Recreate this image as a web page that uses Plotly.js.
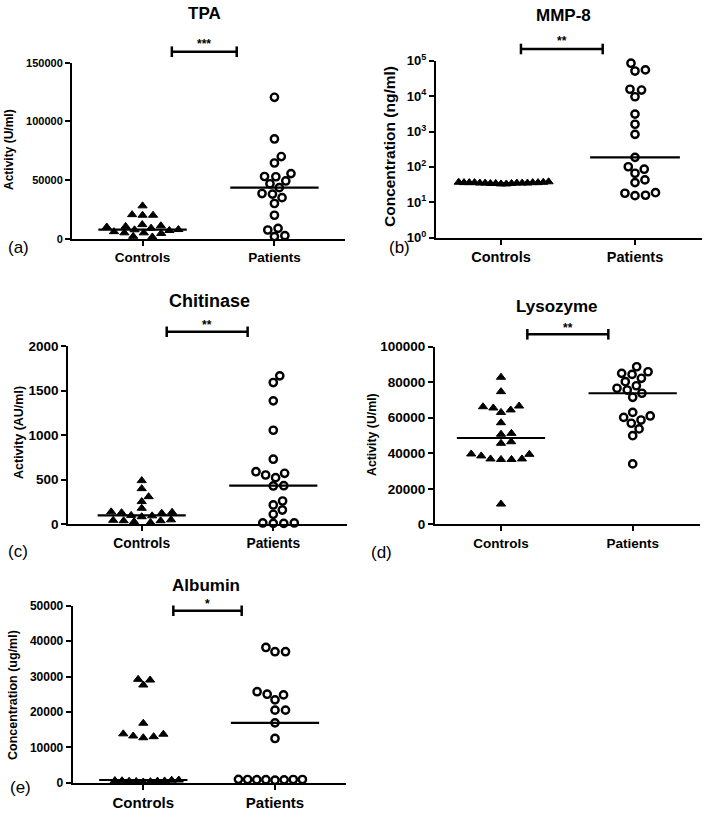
<!DOCTYPE html>
<html>
<head>
<meta charset="utf-8">
<script src="https://cdn.plot.ly/plotly-3.0.1.min.js"></script>
<style>html,body{margin:0;padding:0;background:#fff;}#chart{width:706px;height:817px;}</style>
</head>
<body>
<div id="chart"></div>
<script>
// ---------- data ----------
const groups = ['Controls', 'Patients'];

const tpaControls = [28000, 20500, 20000, 20000, 12000, 11000, 10500, 10000, 9000, 7800, 7600, 7000, 6000, 5000, 5000, 4500, 2000, 1500, -500];
const tpaPatients = [120500, 85000, 70000, 64500, 55500, 53000, 52800, 49200, 46800, 43500, 38500, 38000, 35000, 30000, 20000, 8800, 7400, 2600, 1800];

const mmp8Controls = [36, 34, 35, 37, 33, 36, 35, 38, 34, 36, 35, 37, 34, 36, 35, 33, 36, 35];
const mmp8Patients = [85000, 55000, 51000, 15600, 14800, 9600, 3100, 1600, 830, 186, 101, 86, 66, 43, 36, 18.7, 18, 15.8, 15.4];

const chitinaseControls = [490, 400, 310, 255, 180, 140, 135, 130, 125, 100, 95, 85, 50, 45, 40, 40, 30, 20, -20];
const chitinasePatients = [1665, 1590, 1385, 1055, 730, 590, 572, 553, 523, 433, 430, 261, 217, 160, 112, 15, 10, 10, 15];

const lysozymeControls = [82800, 74700, 66600, 66200, 65500, 64400, 63000, 57200, 51200, 50700, 46500, 45600, 39600, 39400, 38500, 36800, 36800, 36500, 36500, 11400];
const lysozymePatients = [88700, 85900, 85000, 84400, 82200, 80300, 78000, 76600, 75600, 73800, 71500, 63000, 61000, 60200, 58700, 56900, 53700, 49900, 34000];

const albuminControls = [29200, 29000, 27600, 16800, 13800, 13700, 13200, 13000, 12700, 760, 700, 600, 550, 500, 450, 400, 350, 300, 200];
const albuminPatients = [38200, 37000, 37000, 25700, 25000, 24800, 23400, 20500, 20500, 16900, 12500, 950, 900, 900, 900, 850, 850, 800, 700];

const titles = ['TPA', 'MMP-8', 'Chitinase', 'Lysozyme', 'Albumin'];
const yTitles = ['Activity (U/ml)', 'Concentration (ng/ml)', 'Activity (AU/ml)', 'Activity (U/ml)', 'Concentration (ug/ml)'];
const panelLabels = ['(a)', '(b)', '(c)', '(d)', '(e)'];
const significance = ['***', '**', '**', '**', '*'];
const mmp8TickVals = [1, 10, 100, 1000, 10000, 100000];
const mmp8TickText = ['10<sup>0</sup>', '10<sup>1</sup>', '10<sup>2</sup>', '10<sup>3</sup>', '10<sup>4</sup>', '10<sup>5</sup>'];

// ---------- layout / style config ----------
const W = 706, H = 817;
const FONT = 'Arial, "Liberation Sans", Helvetica, sans-serif';
const fx = p => p / W, fy = p => 1 - p / H;

const panels = [
  {ctrl: tpaControls, pat: tpaPatients, xPx: [72, 345], yPx: [62.7, 238.7], xRange: [-0.535, 1.535], yRange: [0, 150000], dtick: 50000,
   tickSize: 11, catSize: 13.5, titleXY: [204, 14], titleSize: 17, yTitleXY: [9, 150], yTitleSize: 12, labelXY: [18, 248], labelSize: 17,
   bar: [0.222, 0.714], barY: 51.7, starsY: 44, halfW: 32},
  {ctrl: mmp8Controls, pat: mmp8Patients, xPx: [436, 702], yPx: [60.7, 237.7], xRange: [-0.485, 1.5], yRange: [0, 5], log: true,
   tickSize: 13, catSize: 14.5, titleXY: [563, 15], titleSize: 17, yTitleXY: [389, 147], yTitleSize: 15.5, labelXY: [399, 248], labelSize: 17,
   bar: [0.149, 0.759], barY: 49, starsY: 41, halfW: 45},
  {ctrl: chitinaseControls, pat: chitinasePatients, xPx: [68.3, 346.7], yPx: [346, 524.3], xRange: [-0.558, 1.558], yRange: [0, 2000], dtick: 500,
   tickSize: 13.5, catSize: 13.8, titleXY: [209, 301], titleSize: 18, yTitleXY: [19, 433], yTitleSize: 12.5, labelXY: [18, 551], labelSize: 17,
   bar: [0.19, 0.805], barY: 331.7, starsY: 325, halfW: 32},
  {ctrl: lysozymeControls, pat: lysozymePatients, xPx: [435, 700], yPx: [346.7, 524.3], xRange: [-0.501, 1.511], yRange: [0, 100000], dtick: 20000,
   tickSize: 13.5, catSize: 13.5, titleXY: [557, 306], titleSize: 17, yTitleXY: [372, 435], yTitleSize: 12.3, labelXY: [381, 552], labelSize: 17,
   bar: [0.2, 0.815], barY: 334.3, starsY: 328, halfW: 32},
  {ctrl: albuminControls, pat: albuminPatients, xPx: [72.7, 345.6], yPx: [605.7, 782.7], xRange: [-0.536, 1.536], yRange: [0, 50000], dtick: 10000,
   tickSize: 12, catSize: 15, titleXY: [206, 585], titleSize: 17, yTitleXY: [13, 695], yTitleSize: 12.5, labelXY: [20, 787], labelSize: 17,
   bar: [0.228, 0.747], barY: 610.7, starsY: 604, halfW: 32}
];

const S0 = 10.5;     // px horizontal spacing between touching neighbours
const DYS = [6.5, 8.5]; // px vertical collision distance: triangles, circles
const MEDIAN_HALF = 0.335;

function median(a) {
  const s = a.slice().sort((p, q) => p - q);
  const n = s.length;
  return n % 2 ? s[(n - 1) / 2] : (s[n / 2 - 1] + s[n / 2]) / 2;
}

// deterministic beeswarm (GraphPad-like scatter) in pixel space, elliptical collisions
function swarm(vals, toPx, halfW, DY) {
  const n = vals.length;
  const py = vals.map(toPx);
  const sp = py.map(p => {
    const near = py.filter(q => Math.abs(q - p) < 3).length;
    return near > 1 ? Math.min(S0, 2 * halfW / (near - 1)) : S0;
  });
  const order = vals.map((v, i) => i).sort((a, b) => vals[a] - vals[b]);
  const placed = [];
  const off = new Array(n).fill(0);
  const collides = (i, x) => placed.some(j => {
    const s = Math.min(sp[i], sp[j]);
    const dx = (off[j] - x) / s, dy = (py[j] - py[i]) / DY;
    return dx * dx + dy * dy < 0.999;
  });
  order.forEach(i => {
    const cands = [0];
    placed.forEach(j => {
      const dy = (py[j] - py[i]) / DY;
      if (Math.abs(dy) < 1) {
        const s = Math.min(sp[i], sp[j]);
        const w = s * Math.sqrt(1 - dy * dy);
        cands.push(off[j] + w, off[j] - w);
      }
    });
    cands.sort((a, b) => Math.abs(a) - Math.abs(b) || b - a);
    for (const x of cands) { if (!collides(i, x)) { off[i] = x; break; } }
    placed.push(i);
  });
  return off;
}

const traces = [];
const annotations = [];
const shapes = [];
const layout = {
  width: W, height: H, margin: {l: 0, r: 0, t: 0, b: 0},
  paper_bgcolor: '#fff', plot_bgcolor: '#fff', showlegend: false,
  font: {family: FONT, color: '#000'},
  annotations: annotations, shapes: shapes
};

panels.forEach((p, k) => {
  const sfx = k === 0 ? '' : String(k + 1);
  const xa = 'x' + sfx, ya = 'y' + sfx;
  const wPx = p.xPx[1] - p.xPx[0], hPx = p.yPx[1] - p.yPx[0];
  const pxPerX = wPx / (p.xRange[1] - p.xRange[0]);
  const toPx = p.log ? (v => Math.log10(v) * hPx / (p.yRange[1] - p.yRange[0]))
                     : (v => (v - p.yRange[0]) * hPx / (p.yRange[1] - p.yRange[0]));

  [p.ctrl, p.pat].forEach((vals, g) => {
    const off = swarm(vals, toPx, p.halfW, DYS[g]);
    traces.push({
      type: 'scatter', mode: 'markers', xaxis: xa, yaxis: ya, cliponaxis: false, hoverinfo: 'y',
      x: vals.map((v, i) => g + off[i] / pxPerX), y: vals,
      marker: g === 0
        ? {symbol: 'triangle-up', size: 8, color: '#000', line: {color: '#000', width: 1}}
        : {symbol: 'circle-open', size: 7.3, color: '#000', line: {color: '#000', width: 2.4}}
    });
    const m = median(vals);
    traces.push({
      type: 'scatter', mode: 'lines', xaxis: xa, yaxis: ya, cliponaxis: false, hoverinfo: 'skip',
      x: [g - MEDIAN_HALF, g + MEDIAN_HALF], y: [m, m], line: {color: '#000', width: 2.2}
    });
  });

  const common = {showline: true, linecolor: '#000', linewidth: 2, ticks: 'outside', ticklen: 5, tickwidth: 2, tickcolor: '#000',
                  showgrid: false, zeroline: false, fixedrange: true};
  layout['xaxis' + sfx] = Object.assign({}, common, {
    domain: [fx(p.xPx[0]), fx(p.xPx[1])], anchor: ya, range: p.xRange,
    tickvals: [0, 1], ticktext: groups, tickfont: {family: FONT, size: p.catSize, weight: 'bold', color: '#000'}
  });
  const yax = Object.assign({}, common, {
    domain: [fy(p.yPx[1]), fy(p.yPx[0])], anchor: xa, range: p.yRange,
    tickfont: {family: FONT, size: p.tickSize, weight: 'bold', color: '#000'}
  });
  if (p.log) {
    yax.type = 'log'; yax.tickvals = mmp8TickVals; yax.ticktext = mmp8TickText;
  } else {
    yax.dtick = p.dtick; yax.tick0 = 0; yax.tickformat = 'd';
  }
  layout['yaxis' + sfx] = yax;

  // titles and labels
  annotations.push({text: titles[k], xref: 'paper', yref: 'paper', x: fx(p.titleXY[0]), y: fy(p.titleXY[1]),
    xanchor: 'center', yanchor: 'middle', showarrow: false, font: {family: FONT, size: p.titleSize, weight: 'bold', color: '#000'}});
  annotations.push({text: yTitles[k], xref: 'paper', yref: 'paper', x: fx(p.yTitleXY[0]), y: fy(p.yTitleXY[1]), textangle: -90,
    xanchor: 'center', yanchor: 'middle', showarrow: false, font: {family: FONT, size: p.yTitleSize, weight: 'bold', color: '#000'}});
  annotations.push({text: panelLabels[k], xref: 'paper', yref: 'paper', x: fx(p.labelXY[0]), y: fy(p.labelXY[1]),
    xanchor: 'center', yanchor: 'middle', showarrow: false, font: {family: FONT, size: p.labelSize, color: '#000'}});
  // significance bar
  const bx0 = p.bar[0], bx1 = p.bar[1];
  annotations.push({text: significance[k], xref: xa, yref: 'paper', x: (bx0 + bx1) / 2, y: fy(p.starsY),
    xanchor: 'center', yanchor: 'middle', showarrow: false, font: {family: FONT, size: 12, weight: 'bold', color: '#000'}});
  const ln = {color: '#000', width: 2.5};
  shapes.push({type: 'line', xref: xa, yref: 'paper', x0: bx0, x1: bx1, y0: fy(p.barY), y1: fy(p.barY), line: ln});
  shapes.push({type: 'line', xref: xa, yref: 'paper', x0: bx0, x1: bx0, y0: fy(p.barY - 5.3), y1: fy(p.barY + 5.3), line: ln});
  shapes.push({type: 'line', xref: xa, yref: 'paper', x0: bx1, x1: bx1, y0: fy(p.barY - 5.3), y1: fy(p.barY + 5.3), line: ln});
});

Plotly.newPlot('chart', traces, layout, {staticPlot: true, displayModeBar: false});
</script>
</body>
</html>
